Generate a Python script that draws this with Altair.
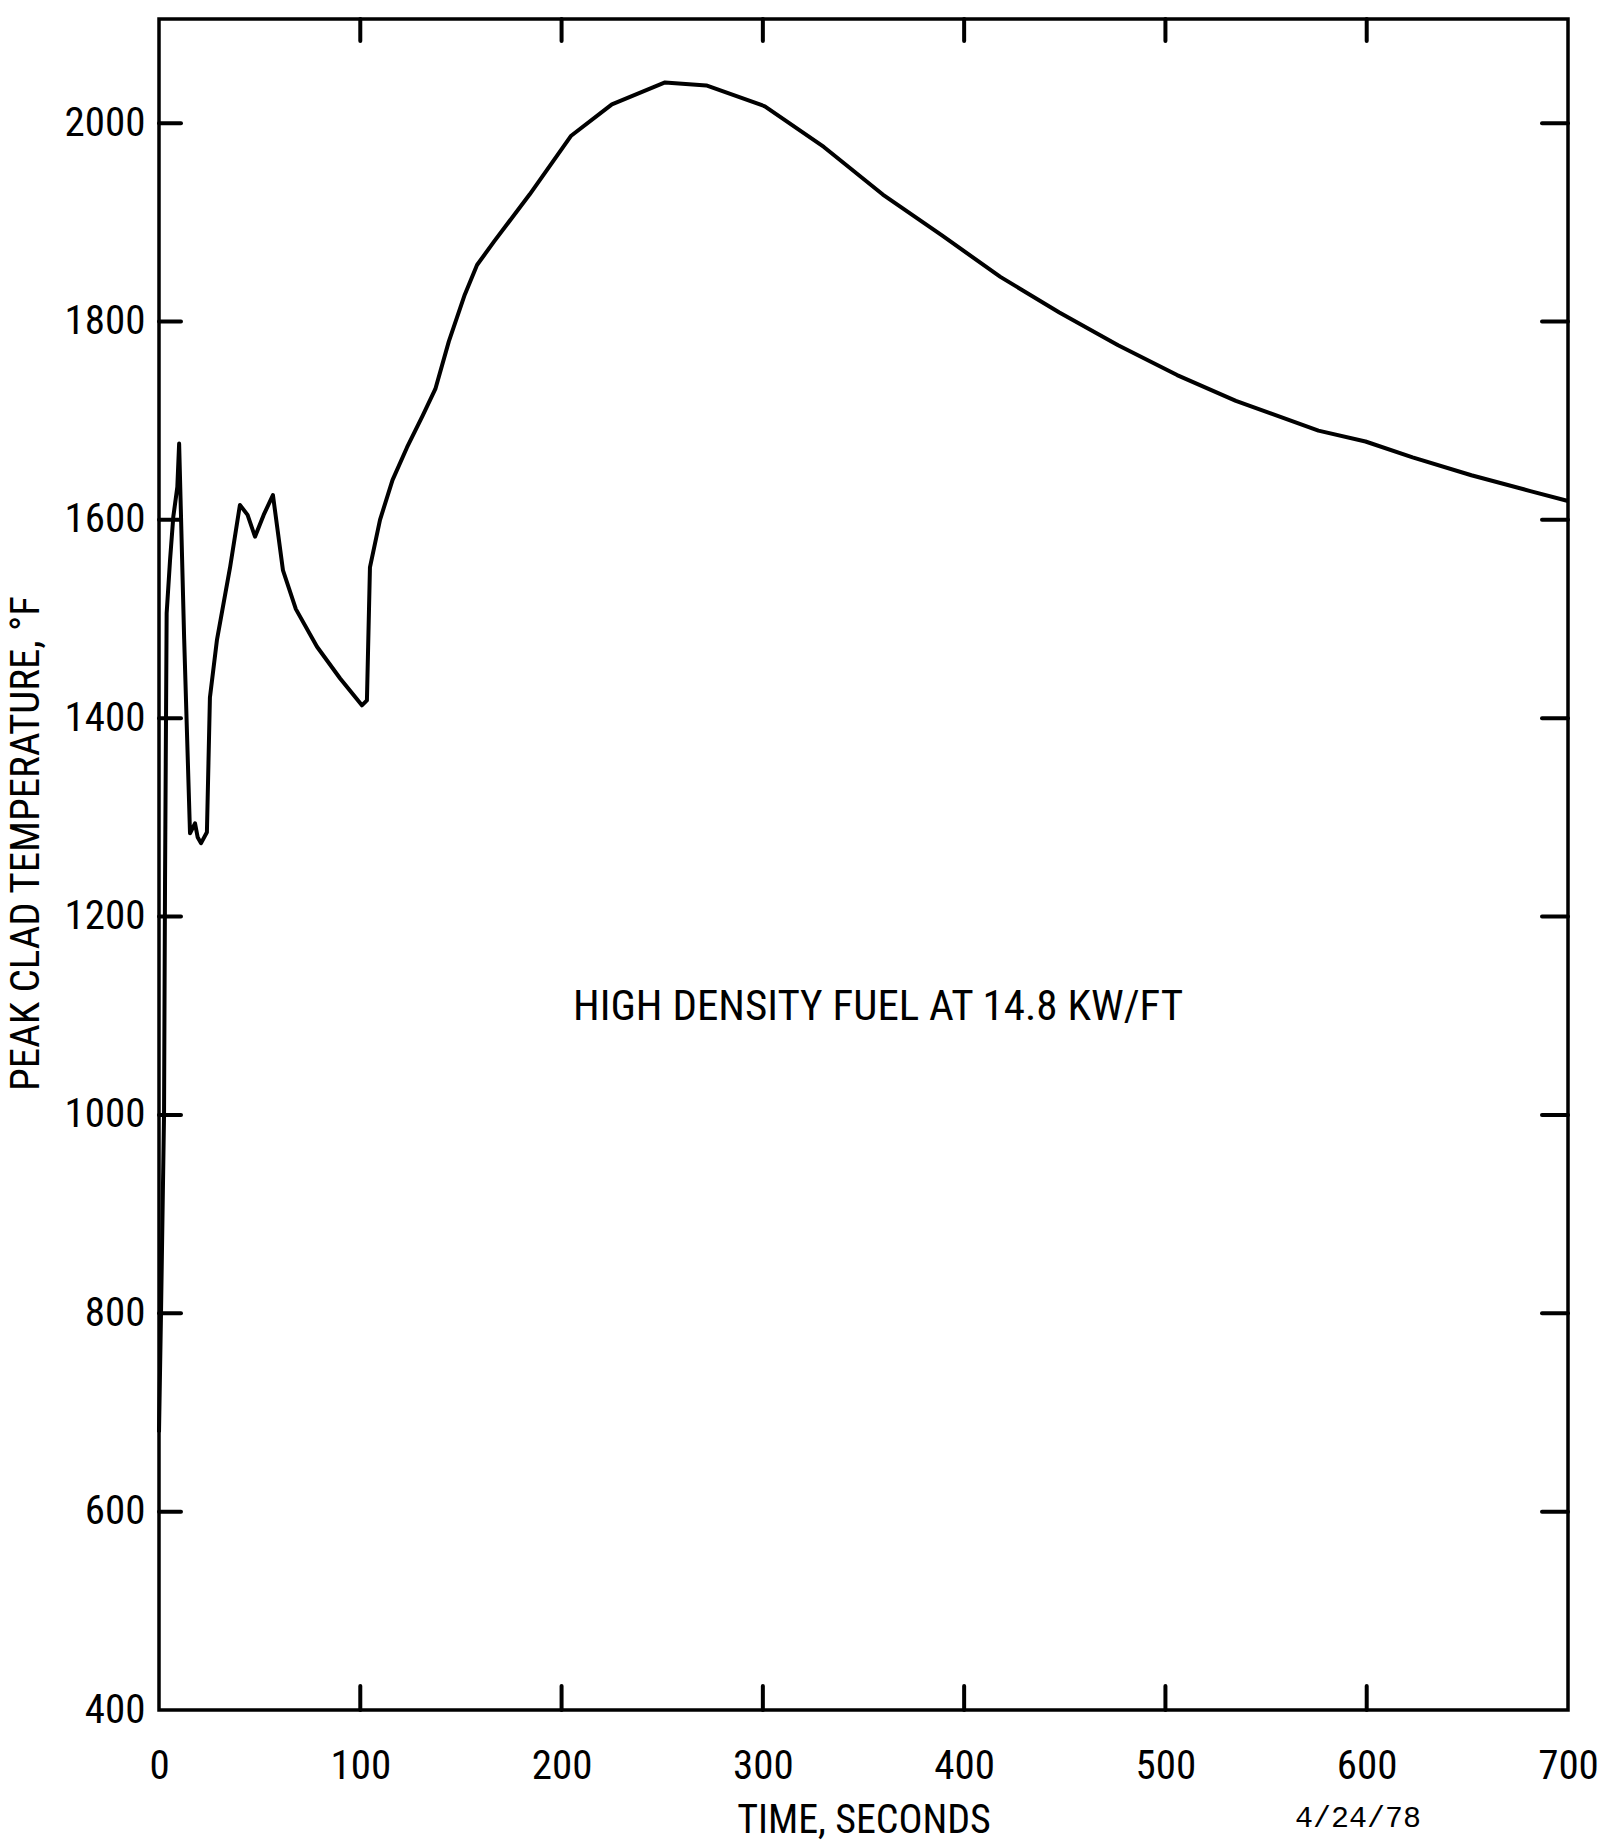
import altair as alt
import pandas as pd

# ---- data ----
time_s = [0, 1.0, 2.5, 3.0, 3.8, 5.5, 7.1, 9.1, 10.0, 12.5, 15.4, 17.9, 19.2, 20.9, 23.8,
          25.3, 28.8, 35.3, 40.2, 44.0, 47.7, 52.0, 56.6, 61.6, 68.0, 78.5, 90.0, 100.8,
          103.3, 104.8, 109.8, 116.0, 123.2, 131.0, 137.3, 144.0, 151.9, 158.0, 166.6,
          184.1, 204.6, 225.0, 251.4, 271.9, 301.0, 330.3, 359.6, 388.8, 418.0, 447.3,
          476.5, 505.8, 535.0, 576.0, 599.4, 622.8, 652.0, 681.3, 700.0]
temp_f = [680, 800, 1000, 1237, 1506, 1560, 1603, 1633, 1677, 1480, 1284, 1294, 1280, 1274, 1285,
          1421, 1479, 1552, 1615, 1605, 1583, 1605, 1625, 1549, 1510, 1472, 1440, 1413,
          1418, 1552, 1600, 1640, 1673, 1705, 1732, 1780, 1827, 1857, 1881,
          1928, 1987, 2019, 2041, 2038, 2017, 1976, 1928, 1887, 1845, 1809,
          1776, 1746, 1720, 1690, 1679, 1663, 1645, 1629, 1619]

x_labels = [0, 100, 200, 300, 400, 500, 600, 700]
y_labels = [400, 600, 800, 1000, 1200, 1400, 1600, 1800, 2000]
x_ticks = [100, 200, 300, 400, 500, 600]
y_ticks = [600, 800, 1000, 1200, 1400, 1600, 1800, 2000]

note_text = ["HIGH DENSITY FUEL AT 14.8 KW/FT"]
note_t = [205.7]
note_T = [1109]

date_text = ["4/24/78"]

W, H = 1409, 1691
FONT = "Roboto Condensed, Liberation Sans Narrow, DejaVu Sans Condensed, Roboto, sans-serif"

curve = pd.DataFrame({"t": time_s, "T": temp_f})
xt = pd.DataFrame({"t": x_ticks})
yt = pd.DataFrame({"T": y_ticks})
note = pd.DataFrame({"t": note_t, "T": note_T, "label": note_text})
date = pd.DataFrame({"label": date_text})

xs = alt.Scale(domain=[0, 700], nice=False, zero=False)
ys = alt.Scale(domain=[400, 2105], nice=False, zero=False)

line = alt.Chart(curve).mark_line(color="black", strokeWidth=4, strokeJoin="round").encode(
    x=alt.X("t:Q", scale=xs, title="TIME, SECONDS", axis=alt.Axis(
        values=x_labels, title="TIME, SECONDS", format="d",
        ticks=False, domain=False, grid=False, labelPadding=36,
        labelFontSize=41, labelFont=FONT, labelColor="black",
        titleFontSize=40, titleFont=FONT, titleFontWeight="normal", titleColor="black",
        titleY=110, titleBaseline="middle", labelFlush=False)),
    y=alt.Y("T:Q", scale=ys, title="PEAK CLAD TEMPERATURE, °F", axis=alt.Axis(
        values=y_labels, format="d",
        title="PEAK CLAD TEMPERATURE, °F",
        ticks=False, domain=False, grid=False, labelPadding=14,
        labelFontSize=41, labelFont=FONT, labelColor="black", labelBaseline="middle",
        titleFontSize=41, titleFont=FONT, titleFontWeight="normal", titleColor="black",
        titleX=-133, titleY=824, titleAlign="center", titleBaseline="middle",
        labelFlush=False)),
)

tick_style = dict(color="black", strokeWidth=4, strokeCap="round")

xb = alt.Chart(xt).mark_rule(**tick_style).encode(
    x=alt.X("t:Q", scale=xs), y=alt.value(H), y2=alt.value(H - 24))
xtop = alt.Chart(xt).mark_rule(**tick_style).encode(
    x=alt.X("t:Q", scale=xs), y=alt.value(0), y2=alt.value(22))
yl = alt.Chart(yt).mark_rule(**tick_style).encode(
    y=alt.Y("T:Q", scale=ys), x=alt.value(0), x2=alt.value(22))
yr = alt.Chart(yt).mark_rule(**tick_style).encode(
    y=alt.Y("T:Q", scale=ys), x=alt.value(W), x2=alt.value(W - 26))

note_mark = alt.Chart(note).mark_text(
    align="left", baseline="middle", fontSize=43, font=FONT, color="black").encode(
    x=alt.X("t:Q", scale=xs), y=alt.Y("T:Q", scale=ys), text="label:N")

date_mark = alt.Chart(date).mark_text(
    align="center", baseline="middle", fontSize=30, font="Liberation Mono", color="black").encode(
    x=alt.value(1358 - 159), y=alt.value(1818 - 19), text="label:N")

chart = alt.layer(line, xb, xtop, yl, yr, note_mark, date_mark).properties(
    width=W, height=H,
    autosize=alt.AutoSizeParams(type="none"),
    padding={"left": 159, "top": 19, "right": 41, "bottom": 135},
    background="white",
).configure_view(stroke="black", strokeWidth=3.5)

chart.save("out.html", embed_options={"renderer": "svg", "actions": False})
